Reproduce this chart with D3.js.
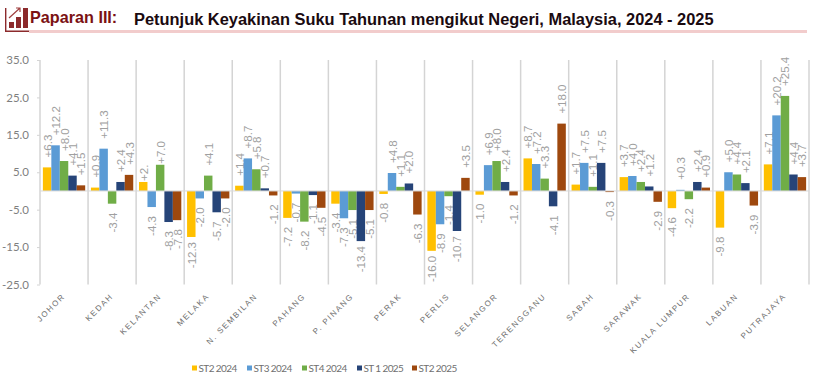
<!DOCTYPE html>
<html>
<head>
<meta charset="utf-8">
<script src="https://cdn.jsdelivr.net/npm/d3@7"></script>
<style>
  body { margin: 0; background: #fff; }
  svg { display: block; }
  .paparan { font: bold 16.2px "Liberation Sans", sans-serif; fill: #7b1113; }
  .title { font: bold 16.42px "Liberation Sans", sans-serif; fill: #1a0a10; }
  .y-axis text { font: 11.5px "Lato", sans-serif; fill: #7f7f7f; }
  .x-axis text { font: 8px "Liberation Sans", sans-serif; fill: #6f6f6f; letter-spacing: 1.6px; }
  .value { font: 11.5px "Liberation Sans", sans-serif; fill: #a0a0a0; }
  .legend text { font: 10px "Lato", sans-serif; fill: #6f6f6f; letter-spacing: -0.6px; }
</style>
</head>
<body>
<svg width="816" height="378"></svg>
<script>
const states = ['JOHOR', 'KEDAH', 'KELANTAN', 'MELAKA', 'N. SEMBILAN', 'PAHANG', 'P. PINANG', 'PERAK',
  'PERLIS', 'SELANGOR', 'TERENGGANU', 'SABAH', 'SARAWAK', 'KUALA LUMPUR', 'LABUAN', 'PUTRAJAYA'];
const seriesNames = ['ST2 2024', 'ST3 2024', 'ST4 2024', 'ST 1 2025', 'ST2 2025'];
const seriesColors = ['#FFC000', '#5B9BD5', '#70AD47', '#264478', '#9E480E'];
const yTicks = [-25, -15, -5, 5, 15, 25, 35];

const st2_2024 = [6.3, 0.9, 2.4, -12.3, 1.4, -7.2, -3.4, -0.8, -16.0, -1.0, 8.7, 1.7, 3.7, -4.6, -9.8, 7.1];
const st3_2024 = [12.2, 11.3, -4.3, -2.0, 8.7, -0.7, -7.3, 4.8, -8.9, 6.9, 7.2, 7.5, 4.0, 0.3, 5.0, 20.2];
const st4_2024 = [8.0, -3.4, 7.0, 4.1, 5.8, -8.2, -5.1, 1.1, -1.4, 8.0, 3.3, 1.1, 2.4, -2.2, 4.4, 25.4];
const st1_2025 = [4.1, 2.4, -8.3, -5.7, 0.7, -1.1, -13.4, 2.0, -10.7, 2.4, -4.1, 7.5, 1.2, 2.4, 2.1, 4.4];
const st2_2025 = [1.5, 4.3, -7.8, -2.0, -1.2, -4.5, -5.1, -6.3, 3.5, -1.2, 18.0, -0.3, -2.9, 0.9, -3.9, 3.7];
const seriesValues = [st2_2024, st3_2024, st4_2024, st1_2025, st2_2025];

const svg = d3.select('svg');
const locale = d3.formatLocale({ decimal: '.', thousands: ',', grouping: [3], currency: ['', ''], minus: '-' });

// header
const icon = svg.append('g').attr('transform', 'translate(5,8)');
icon.append('path')
  .attr('d', 'M4,14H9V20H4ZM11,9H16V20H11ZM18,0H23V20H18Z')
  .attr('fill', '#8c2a2c');
icon.append('path')
  .attr('d', 'M0.7,0V23.3H24')
  .attr('fill', 'none').attr('stroke', '#8c2a2c').attr('stroke-width', 1.4);
icon.append('path')
  .attr('d', 'M4,10L15,0M11,0H15V4')
  .attr('fill', 'none').attr('stroke', '#a04040').attr('stroke-width', 1.2);

svg.append('rect').attr('x', 29).attr('y', 30).attr('width', 778).attr('height', 3).attr('fill', '#f2cccc');
svg.append('text').attr('class', 'paparan').attr('x', 30).attr('y', 23).text('Paparan III:');
svg.append('text').attr('class', 'title').attr('x', 134).attr('y', 25)
  .text('Petunjuk Keyakinan Suku Tahunan mengikut Negeri, Malaysia, 2024 - 2025');

// scales
const x = d3.scaleBand().domain(states).range([40, 809]);
const xInner = d3.scaleBand().domain(seriesNames).range([0, x.bandwidth()]).paddingOuter(0.34);
const y = d3.scaleLinear().domain([-25, 35]).range([284.5, 60]);

// vertical separators
svg.append('g').selectAll('line')
  .data(states.concat('end'))
  .join('line')
  .attr('x1', (d, i) => i < states.length ? x(d) : x.range()[1])
  .attr('x2', (d, i) => i < states.length ? x(d) : x.range()[1])
  .attr('y1', y(35)).attr('y2', y(-25))
  .attr('stroke', '#d4d4d4').attr('stroke-width', 1.5);

// y axis
const yAxis = svg.append('g').attr('class', 'y-axis')
  .attr('transform', 'translate(40,0)')
  .call(d3.axisLeft(y).tickValues(yTicks).tickFormat(locale.format('.1f')).tickSize(3).tickPadding(8));
yAxis.select('.domain').remove();
yAxis.selectAll('line').attr('stroke', '#d4d4d4');

// bars
const series = svg.selectAll('.series')
  .data(seriesValues)
  .join('g')
  .attr('class', 'series');

series.selectAll('rect')
  .data((vals, s) => vals.map((v, i) => ({ state: states[i], v, s })))
  .join('rect')
  .attr('x', d => x(d.state) + xInner(seriesNames[d.s]))
  .attr('width', xInner.bandwidth())
  .attr('y', d => y(Math.max(d.v, 0)))
  .attr('height', d => Math.abs(y(d.v) - y(0)))
  .attr('fill', d => seriesColors[d.s]);

// zero line sits on top of the bars
svg.append('line')
  .attr('x1', 40).attr('x2', 809)
  .attr('y1', y(0)).attr('y2', y(0))
  .attr('stroke', '#d9d9d9').attr('stroke-width', 1);

// value labels, the Kelantan +2. is cut short in the source
const labelGap = d => {
  if (d.v < 0) return d.v <= -10 ? 5 : 9;
  return d.state === 'KELANTAN' ? 1 : 10;
};
series.selectAll('text')
  .data((vals, s) => vals.map((v, i) => ({ state: states[i], v, s })))
  .join('text')
  .attr('class', 'value')
  .attr('text-anchor', d => d.v >= 0 ? 'start' : 'end')
  .attr('transform', d => {
    const px = x(d.state) + xInner(seriesNames[d.s]) + xInner.bandwidth() / 2 + 4.5;
    const py = d.v >= 0 ? y(d.v) - labelGap(d) : y(d.v) + labelGap(d);
    return `translate(${px},${py}) rotate(-90)`;
  })
  .text(d => d.state === 'KELANTAN' && d.s === 0 ? '+2.' : locale.format('+.1f')(d.v));

// x axis labels
const xAxis = svg.append('g').attr('class', 'x-axis')
  .attr('transform', 'translate(0,295)')
  .call(d3.axisBottom(x).tickSize(0).tickPadding(0));
xAxis.select('.domain').remove();
xAxis.selectAll('text')
  .attr('text-anchor', 'end')
  .attr('dy', '0.3em')
  .attr('transform', 'rotate(-45)');

// legend
const legendX = d3.scalePoint().domain(seriesNames).range([192, 412]);
const legend = svg.append('g').attr('class', 'legend')
  .selectAll('g')
  .data(seriesNames)
  .join('g')
  .attr('transform', d => `translate(${legendX(d)},368)`);
legend.append('rect')
  .attr('y', -2.5).attr('width', 5).attr('height', 5)
  .attr('fill', (d, i) => seriesColors[i]);
legend.append('text').attr('x', 6.5).attr('dy', '0.35em').text(d => d);
</script>
</body>
</html>
